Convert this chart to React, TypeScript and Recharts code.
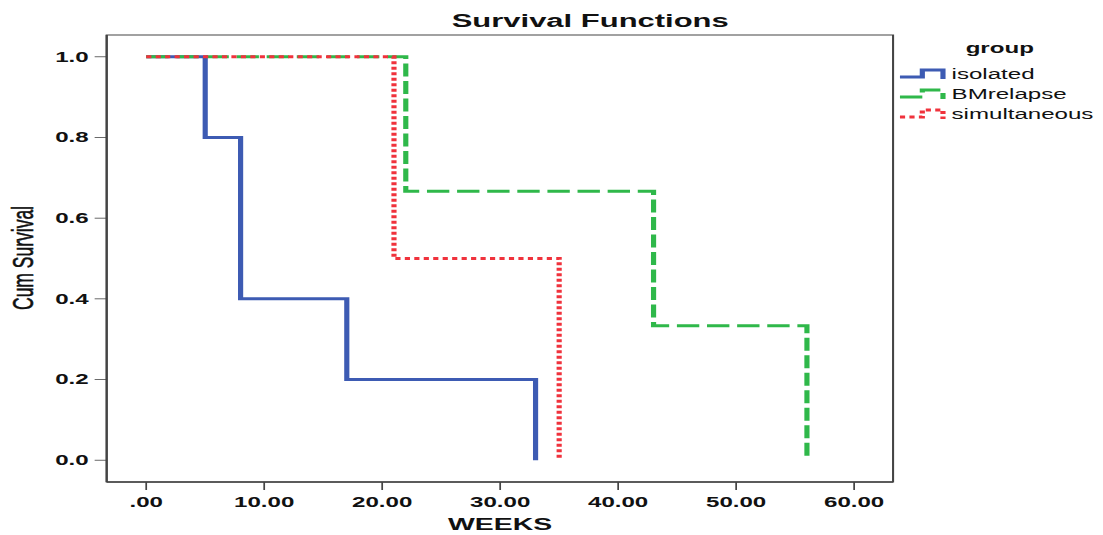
import { LineChart, Line, XAxis, YAxis, ReferenceArea } from 'recharts'

// the reference picture is horizontally stretched, so draw narrow and scale X
const W = 641
const H = 535
const SX = 1103 / W

const isolatedWeeks = [0, 5, 8, 17, 33]
const isolatedSurv = [1, 0.8, 0.4, 0.2, 0]
const bmWeeks = [0, 22, 43, 56]
const bmSurv = [1, 0.667, 0.333, 0]
const simWeeks = [0, 21, 35]
const simSurv = [1, 0.5, 0]

const xTicks = [0, 10, 20, 30, 40, 50, 60]
const yTicks = [0, 0.2, 0.4, 0.6, 0.8, 1.0]

const toPoints = (weeks: number[], surv: number[]) =>
  weeks.map((w, i) => ({ week: w, surv: surv[i] }))

const series = [
  { name: 'isolated', data: toPoints(isolatedWeeks, isolatedSurv), color: '#3d5bb3', dash: undefined },
  { name: 'BMrelapse', data: toPoints(bmWeeks, bmSurv), color: '#2fb84a', dash: '13 4.5' },
  { name: 'simultaneous', data: toPoints(simWeeks, simSurv), color: '#f0323c', dash: '3 2.5' },
]

const X_DOMAIN: [number, number] = [-3.35, 63.3]
const Y_DOMAIN: [number, number] = [-0.054, 1.054]
const FONT = '"Liberation Sans", Arial, sans-serif'
const AXIS = '#444'

export default function App() {
  return (
    <div style={{ position: 'absolute', left: 0, top: 0, width: 1103, height: H, overflow: 'hidden', background: '#fff' }}>
      <div style={{ position: 'relative', width: W, height: H, transform: `scaleX(${SX})`, transformOrigin: '0 0' }}>
        <LineChart width={W} height={H} margin={{ top: 35, right: 122, bottom: 13, left: 0 }}>
          <XAxis
            type="number"
            dataKey="week"
            domain={X_DOMAIN}
            ticks={xTicks}
            allowDataOverflow
            height={40}
            tickSize={8}
            tickMargin={7}
            tickFormatter={(v: number) => (v === 0 ? '.00' : v.toFixed(2))}
            tick={{ fill: '#111', fontSize: 14, fontWeight: 'bold', fontFamily: FONT }}
            axisLine={{ stroke: AXIS, strokeWidth: 1.5 }}
            tickLine={{ stroke: AXIS }}
          />
          <YAxis
            type="number"
            domain={Y_DOMAIN}
            ticks={yTicks}
            allowDataOverflow
            width={62}
            tickSize={7}
            tickMargin={3.5}
            tickFormatter={(v: number) => v.toFixed(1)}
            tick={{ fill: '#111', fontSize: 14, fontWeight: 'bold', fontFamily: FONT }}
            axisLine={{ stroke: AXIS, strokeWidth: 1.2 }}
            tickLine={{ stroke: AXIS, strokeWidth: 0.8 }}
          />
          <ReferenceArea
            x1={X_DOMAIN[0]}
            x2={X_DOMAIN[1]}
            y1={Y_DOMAIN[0]}
            y2={Y_DOMAIN[1]}
            fill="none"
            stroke={AXIS}
            strokeWidth={1.2}
          />
          {series.map((s) => (
            <Line
              key={s.name}
              data={s.data}
              dataKey="surv"
              name={s.name}
              type="stepAfter"
              stroke={s.color}
              strokeWidth={3}
              strokeDasharray={s.dash}
              dot={false}
              activeDot={false}
              isAnimationActive={false}
            />
          ))}
        </LineChart>
        <svg width={W} height={H} style={{ position: 'absolute', left: 0, top: 0, pointerEvents: 'none' }}>
          <text x={343} y={27} textAnchor="middle" fontFamily={FONT} fontWeight="bold" fontSize={18} fill="#111">
            Survival Functions
          </text>
          <text x={290.6} y={530} textAnchor="middle" fontFamily={FONT} fontWeight="bold" fontSize={16.5} fill="#111">
            WEEKS
          </text>
          <text
            transform="translate(19.2,258) rotate(-90)"
            textAnchor="middle"
            fontFamily={FONT}
            fontSize={17.5}
            fill="#111"
            stroke="#111"
            strokeWidth={0.35}
          >
            Cum Survival
          </text>
          <text x={581} y={53} textAnchor="middle" fontFamily={FONT} fontWeight="bold" fontSize={14} fill="#111">
            group
          </text>
          {series.map((s, i) => {
            const cy = 74 + i * 20
            return (
              <g key={s.name}>
                <path
                  d={`M523,${cy + 3} H536 V${cy - 4} H548 V${cy + 5}`}
                  fill="none"
                  stroke={s.color}
                  strokeWidth={3}
                  strokeDasharray={s.dash}
                />
                <text x={553} y={cy + 5} fontFamily={FONT} fontSize={14} fill="#111">
                  {s.name}
                </text>
              </g>
            )
          })}
        </svg>
      </div>
    </div>
  )
}
